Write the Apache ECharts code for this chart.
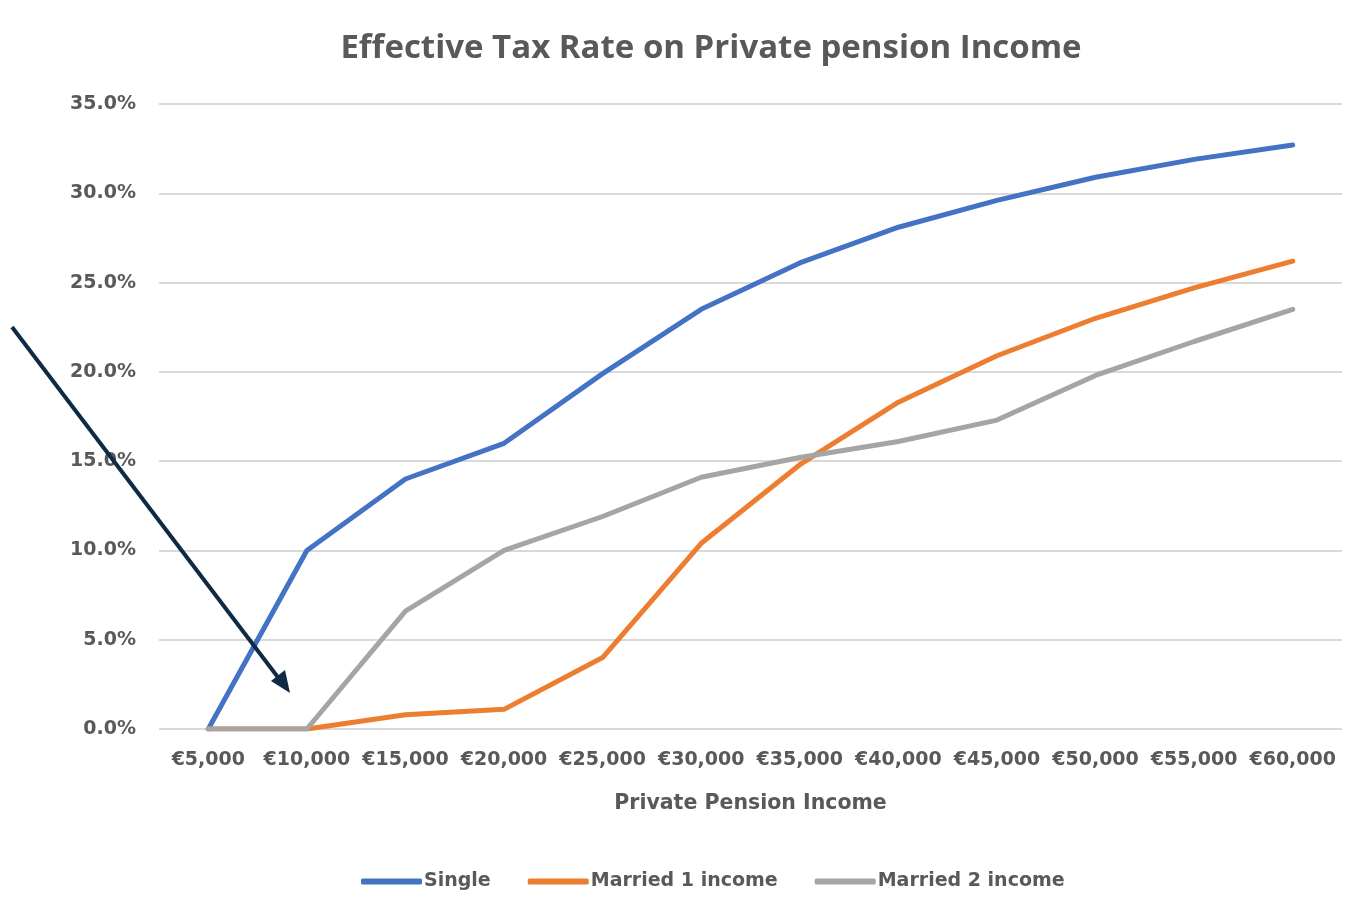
<!DOCTYPE html>
<html>
<head>
<meta charset="utf-8">
<script src="https://cdn.jsdelivr.net/npm/echarts@6/dist/echarts.min.js"></script>
<style>html,body{margin:0;padding:0;background:#fff}#c{width:1345px;height:911px}</style>
</head>
<body>
<div id="c"></div>
<script>
const categories = ['€5,000','€10,000','€15,000','€20,000','€25,000','€30,000','€35,000','€40,000','€45,000','€50,000','€55,000','€60,000'];
const single = [0, 10.0, 14.0, 16.0, 19.9, 23.5, 26.1, 28.1, 29.6, 30.9, 31.9, 32.7];
const married1 = [0, 0, 0.8, 1.1, 4.0, 10.4, 14.8, 18.3, 20.9, 23.0, 24.7, 26.2];
const married2 = [0, 0, 6.6, 10.0, 11.9, 14.1, 15.2, 16.1, 17.3, 19.8, 21.7, 23.5];
const yTicks = [0, 5, 10, 15, 20, 25, 30, 35];

const chart = echarts.init(document.getElementById('c'));
const font = '"Open Sans", sans-serif';
const lab = '"DejaVu Sans", sans-serif';
const txt = '#595959';
chart.setOption({
  animation: false,
  backgroundColor: '#fff',
  title: {
    text: 'Effective Tax Rate on Private pension Income',
    left: 706, top: 27, textAlign: 'center',
    textStyle: { fontFamily: font, fontSize: 33, fontWeight: 'bold', color: txt }
  },
  grid: { left: 159, right: 3, top: 104, bottom: 182, containLabel: false },
  xAxis: {
    type: 'category', data: categories, boundaryGap: true,
    name: 'Private Pension Income', nameLocation: 'middle', nameGap: 64,
    nameTextStyle: { fontFamily: lab, fontSize: 20.5, fontWeight: 'bold', color: txt },
    axisLine: { show: false }, axisTick: { show: false },
    axisLabel: { fontFamily: lab, fontSize: 19, fontWeight: 'bold', color: txt, margin: 22, interval: 0 }
  },
  yAxis: {
    type: 'value', min: yTicks[0], max: yTicks[yTicks.length - 1], interval: 5,
    axisLine: { show: false }, axisTick: { show: false },
    axisLabel: { fontFamily: lab, fontSize: 19, fontWeight: 'bold', color: txt, margin: 23,
      formatter: v => v.toFixed(1) + '%' },
    splitLine: { lineStyle: { color: '#d9d9d9', width: 2 } }
  },
  legend: {
    top: 867, left: 356, itemGap: 37, itemWidth: 61, itemHeight: 6,
    icon: 'roundRect',
    textStyle: { fontFamily: lab, fontSize: 19, fontWeight: 'bold', color: txt, padding: [0, 0, 0, -3] },
    data: ['Single', 'Married 1 income', 'Married 2 income']
  },
  series: [
    { name: 'Single', type: 'line', data: single, symbol: 'none', lineStyle: { width: 5, color: '#4472C4', cap: 'round' }, itemStyle: { color: '#4472C4' } },
    { name: 'Married 1 income', type: 'line', data: married1, symbol: 'none', lineStyle: { width: 5, color: '#ED7D31', cap: 'round' }, itemStyle: { color: '#ED7D31' } },
    { name: 'Married 2 income', type: 'line', data: married2, symbol: 'none', lineStyle: { width: 5, color: '#A5A5A5', cap: 'round' }, itemStyle: { color: '#A5A5A5' } }
  ],
  graphic: [
    { type: 'line', z: 100, shape: { x1: 12, y1: 327, x2: 280, y2: 680 }, style: { stroke: '#0f2a43', lineWidth: 4 } },
    { type: 'polygon', z: 100, shape: { points: [[290, 693], [271, 681], [285, 670]] }, style: { fill: '#0f2a43' } }
  ]
});
</script>
</body>
</html>
